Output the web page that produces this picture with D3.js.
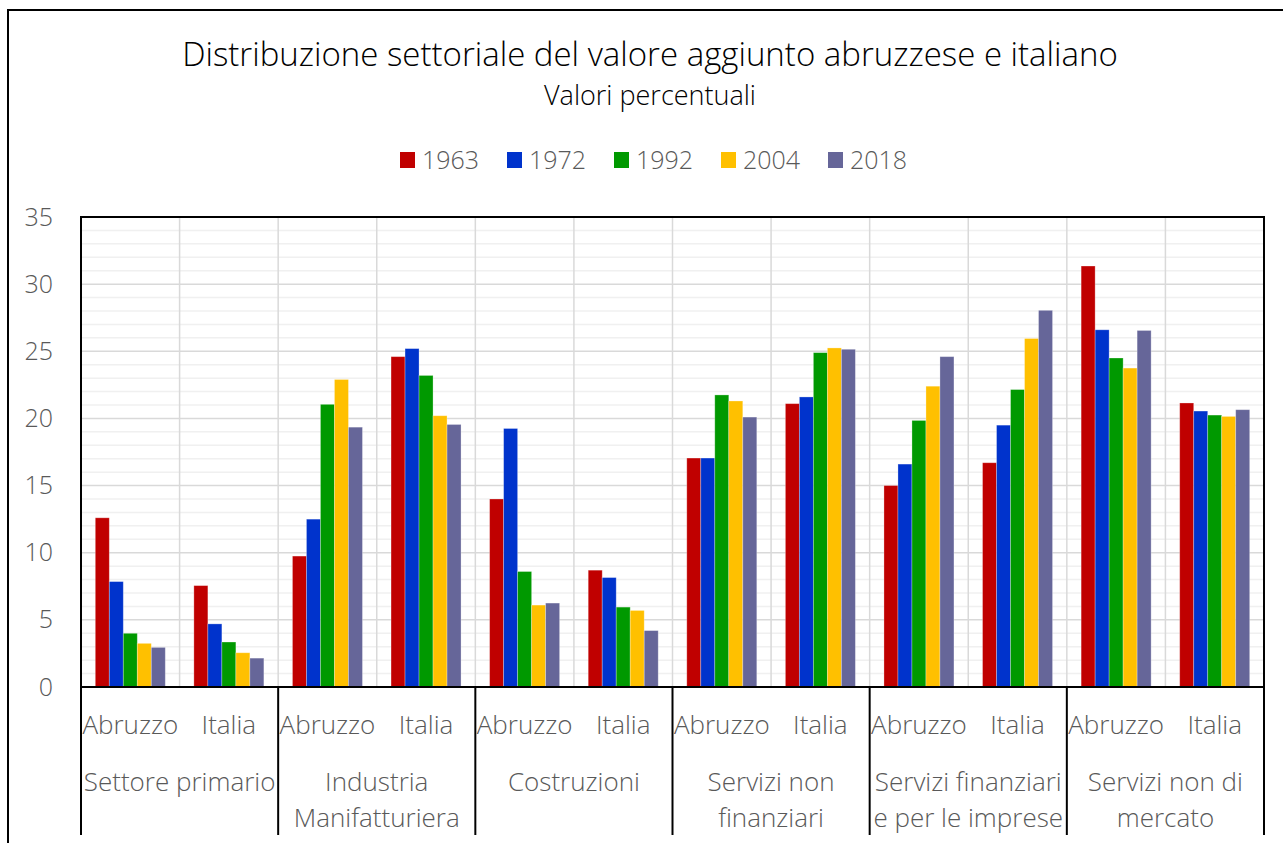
<!DOCTYPE html>
<html>
<head>
<meta charset="utf-8">
<script src="https://cdn.jsdelivr.net/npm/d3@7"></script>
<style>
  body { margin: 0; background: #fff; }
  svg { display: block; font-family: "Open Sans", sans-serif; }
</style>
</head>
<body>
<div id="chart"></div>
<script>
// data
var sectors = [
  ["Settore primario"],
  ["Industria", "Manifatturiera"],
  ["Costruzioni"],
  ["Servizi non", "finanziari"],
  ["Servizi finanziari", "e per le imprese"],
  ["Servizi non di", "mercato"]
];
var areas = ["Abruzzo", "Italia"];
var years = ["1963", "1972", "1992", "2004", "2018"];
var colors = ["#C00000", "#0033CC", "#009900", "#FFC000", "#666699"];
var yTicks = [0, 5, 10, 15, 20, 25, 30, 35];

// one value per sector x area (Abruzzo, Italia, Abruzzo, Italia ...)
var v1963 = [12.6, 7.55, 9.75, 24.6, 14.0, 8.7, 17.05, 21.1, 15.0, 16.7, 31.35, 21.15];
var v1972 = [7.85, 4.7, 12.5, 25.2, 19.25, 8.15, 17.05, 21.6, 16.6, 19.5, 26.6, 20.55];
var v1992 = [4.0, 3.35, 21.05, 23.2, 8.6, 5.95, 21.75, 24.9, 19.85, 22.15, 24.5, 20.25];
var v2004 = [3.25, 2.55, 22.9, 20.2, 6.1, 5.7, 21.3, 25.25, 22.4, 25.95, 23.75, 20.15];
var v2018 = [2.95, 2.15, 19.35, 19.55, 6.25, 4.2, 20.1, 25.15, 24.6, 28.05, 26.55, 20.65];
var series = [v1963, v1972, v1992, v2004, v2018];

var width = 1283, height = 843;
var plotLeft = 81, plotRight = 1264, plotTop = 217, plotBottom = 687;
var textGray = "#595959";

var svg = d3.select("#chart").append("svg")
    .attr("width", width)
    .attr("height", height);

// outer frame (only top and left edges are visible)
svg.append("path")
    .attr("d", "M8,843 L8,10 L1283,10")
    .attr("fill", "none")
    .attr("stroke", "#000")
    .attr("stroke-width", 2);

// sub-categories: sector x area
var cats = [];
sectors.forEach(function(s, i) {
  areas.forEach(function(a, j) { cats.push({sector: i, area: a, idx: i * 2 + j}); });
});

var x = d3.scaleBand()
    .domain(d3.range(cats.length))
    .range([plotLeft, plotRight])
    .padding(0);

var xInner = d3.scaleBand()
    .domain(years)
    .range([x.bandwidth() * 0.145, x.bandwidth() * 0.855])
    .padding(0);

var y = d3.scaleLinear()
    .domain([0, 35])
    .range([plotBottom, plotTop]);

// minor gridlines
svg.append("g").selectAll("line")
    .data(d3.range(1, 35).filter(function(v) { return v % 5 != 0; }))
    .enter().append("line")
    .attr("x1", plotLeft).attr("x2", plotRight)
    .attr("y1", function(d) { return y(d); })
    .attr("y2", function(d) { return y(d); })
    .attr("stroke", "#f0f0f0")
    .attr("stroke-width", 1.5);

// major gridlines
svg.append("g").selectAll("line")
    .data(yTicks.slice(1, -1))
    .enter().append("line")
    .attr("x1", plotLeft).attr("x2", plotRight)
    .attr("y1", function(d) { return y(d); })
    .attr("y2", function(d) { return y(d); })
    .attr("stroke", "#d9d9d9")
    .attr("stroke-width", 1.5);

// vertical gridlines between sub-categories
svg.append("g").selectAll("line")
    .data(d3.range(1, cats.length))
    .enter().append("line")
    .attr("x1", function(d) { return x(d); })
    .attr("x2", function(d) { return x(d); })
    .attr("y1", plotTop).attr("y2", plotBottom)
    .attr("stroke", "#d9d9d9")
    .attr("stroke-width", 1.5);

// bars
var groups = svg.append("g").selectAll("g")
    .data(cats)
    .enter().append("g")
    .attr("transform", function(d) { return "translate(" + x(d.idx) + ",0)"; });

groups.selectAll("rect")
    .data(function(d) {
      return years.map(function(yr, k) { return {year: yr, k: k, value: series[k][d.idx]}; });
    })
    .enter().append("rect")
    .attr("x", function(d) { return xInner(d.year); })
    .attr("width", xInner.bandwidth())
    .attr("y", function(d) { return y(d.value); })
    .attr("height", function(d) { return plotBottom - y(d.value); })
    .attr("fill", function(d) { return colors[d.k]; })
    .attr("stroke", "#fff")
    .attr("stroke-opacity", 0.35)
    .attr("stroke-width", 0.8);

// plot border
svg.append("rect")
    .attr("x", plotLeft).attr("y", plotTop)
    .attr("width", plotRight - plotLeft).attr("height", plotBottom - plotTop)
    .attr("fill", "none")
    .attr("stroke", "#000")
    .attr("stroke-width", 2);

// y axis labels
var yAxis = svg.append("g")
    .attr("transform", "translate(" + (plotLeft - 28) + ",0)")
    .call(d3.axisLeft(y).tickValues(yTicks).tickSize(0).tickPadding(0));
yAxis.select(".domain").remove();
yAxis.selectAll("text")
    .attr("fill", textGray)
    .attr("font-size", "25px")
    .attr("font-weight", 300)
    .attr("font-family", "Open Sans");

// x labels: areas
svg.append("g").selectAll("text")
    .data(cats)
    .enter().append("text")
    .attr("x", function(d) { return x(d.idx) + x.bandwidth() / 2; })
    .attr("y", 734)
    .attr("text-anchor", "middle")
    .attr("fill", textGray)
    .attr("font-size", "26px")
    .attr("font-weight", 300)
    .text(function(d) { return d.area; });

// x labels: sectors
var secW = x.bandwidth() * 2;
svg.append("g").selectAll("text")
    .data(sectors)
    .enter().append("text")
    .attr("text-anchor", "middle")
    .attr("fill", textGray)
    .attr("font-size", "26px")
    .attr("font-weight", 300)
    .each(function(d, i) {
      var t = d3.select(this);
      d.forEach(function(line, j) {
        t.append("tspan")
          .attr("x", x(i * 2) + secW / 2)
          .attr("y", 791 + j * 36)
          .text(line);
      });
    });

// sector separators below the axis
svg.append("g").selectAll("line")
    .data(d3.range(0, cats.length + 1, 2))
    .enter().append("line")
    .attr("x1", function(d) { return d < cats.length ? x(d) : plotRight; })
    .attr("x2", function(d) { return d < cats.length ? x(d) : plotRight; })
    .attr("y1", plotBottom).attr("y2", 835)
    .attr("stroke", "#000")
    .attr("stroke-width", 2);

// title
svg.append("text")
    .attr("x", 650).attr("y", 66)
    .attr("text-anchor", "middle")
    .attr("font-size", "33px")
    .attr("font-weight", 300)
    .attr("fill", "#000")
    .text("Distribuzione settoriale del valore aggiunto abruzzese e italiano");

svg.append("text")
    .attr("x", 650).attr("y", 105)
    .attr("text-anchor", "middle")
    .attr("font-size", "27px")
    .attr("font-weight", 300)
    .attr("fill", "#000")
    .text("Valori percentuali");

// legend
var legendX = [400, 507, 614, 721, 828];
var legend = svg.append("g").selectAll("g")
    .data(years)
    .enter().append("g")
    .attr("transform", function(d, i) { return "translate(" + legendX[i] + ",152)"; });

legend.append("rect")
    .attr("width", 15).attr("height", 16)
    .attr("fill", function(d, i) { return colors[i]; });

legend.append("text")
    .attr("x", 22).attr("y", 17)
    .attr("fill", textGray)
    .attr("font-size", "25px")
    .attr("font-weight", 300)
    .text(function(d) { return d; });
</script>
</body>
</html>
